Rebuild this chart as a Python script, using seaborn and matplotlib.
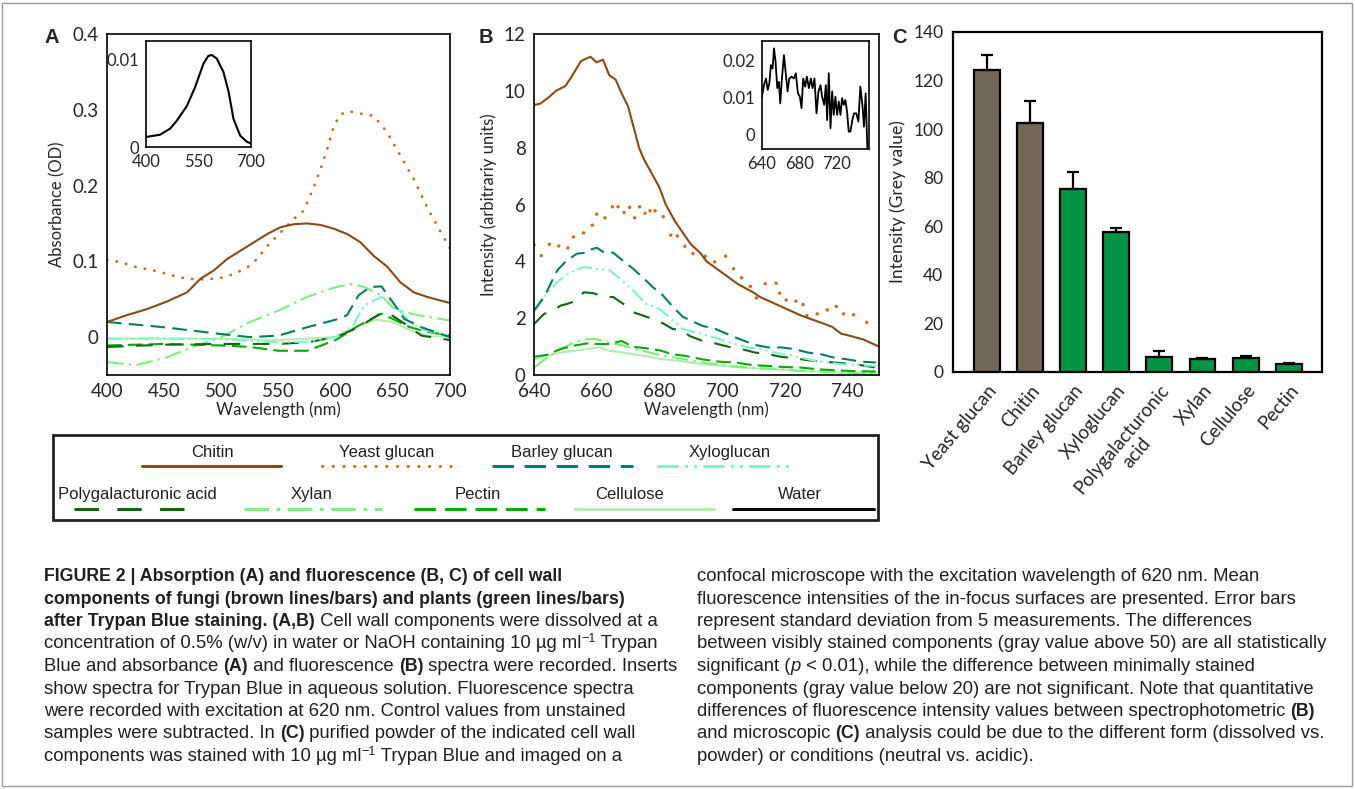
import numpy as np
import pandas as pd
import matplotlib
matplotlib.use("Agg")
import matplotlib.pyplot as plt
import seaborn as sns
from matplotlib import font_manager as fm
from matplotlib.patches import Rectangle

# ---------------- data: panel A (absorbance) ----------------
a_chitin_x = [400, 417.5, 435, 452.5, 470, 481.7, 493.4, 505, 516.7, 528.4, 540.1, 551.7,
              563.4, 575.1, 586.8, 598.4, 610.1, 621.8, 633.4, 645.1, 656.8, 668.5, 680.1, 700]
a_chitin_y = [0.020, 0.029, 0.037, 0.047, 0.059, 0.077, 0.088, 0.103, 0.114, 0.125, 0.136, 0.145,
              0.149, 0.150, 0.148, 0.143, 0.136, 0.125, 0.107, 0.093, 0.072, 0.059, 0.053, 0.045]
a_yeast_x = [400, 411.7, 426.3, 440.9, 458.4, 470, 481.7, 493.4, 502.1, 510.9, 522.6, 531.3, 540.1,
             551.7, 563.4, 572.2, 580.9, 586.8, 592.6, 598.4, 604.3, 611.6, 621.8, 633.4, 645.1,
             656.8, 668.5, 680.1, 691.8, 700]
a_yeast_y = [0.102, 0.099, 0.092, 0.088, 0.081, 0.077, 0.076, 0.077, 0.079, 0.083, 0.092, 0.103, 0.120,
             0.138, 0.156, 0.167, 0.198, 0.222, 0.248, 0.279, 0.294, 0.298, 0.295, 0.292, 0.270,
             0.239, 0.208, 0.171, 0.139, 0.117]
a_barley_x = [400, 450, 500, 525, 550, 575, 600, 610, 620, 630, 640, 650, 660, 675, 700]
a_barley_y = [0.020, 0.013, 0.004, 0.000, 0.002, 0.013, 0.023, 0.029, 0.055, 0.066, 0.067, 0.046, 0.024, 0.013, 0.000]
a_xylog_x = [400, 450, 500, 550, 575, 600, 615, 625, 640, 650, 660, 675, 700]
a_xylog_y = [-0.002, -0.002, -0.003, -0.007, -0.006, 0.000, 0.015, 0.042, 0.053, 0.046, 0.028, 0.010, 0.002]
a_poly_x = [400, 450, 500, 550, 575, 600, 620, 640, 650, 660, 675, 700]
a_poly_y = [-0.013, -0.010, -0.009, -0.009, -0.007, 0.000, 0.013, 0.032, 0.028, 0.018, 0.002, -0.004]
a_xylan_x = [400, 425, 450, 475, 500, 525, 550, 575, 600, 615, 625, 640, 650, 660, 675, 700]
a_xylan_y = [-0.033, -0.037, -0.028, -0.013, 0.000, 0.020, 0.035, 0.053, 0.066, 0.070, 0.066, 0.055, 0.039, 0.033, 0.028, 0.022]
a_pectin_x = [400, 450, 500, 525, 550, 575, 600, 620, 640, 650, 665, 680, 700]
a_pectin_y = [-0.011, -0.009, -0.011, -0.013, -0.018, -0.018, -0.004, 0.015, 0.031, 0.024, 0.013, 0.007, 0.002]
a_cell_x = [400, 450, 500, 550, 600, 620, 635, 650, 665, 680, 700]
a_cell_y = [-0.002, -0.002, -0.002, -0.004, 0.000, 0.015, 0.023, 0.020, 0.009, 0.002, 0.000]
a_water_x = [400, 440, 469, 488, 517, 540, 564, 578, 588, 602, 621, 636, 650, 669, 688, 700]
a_water_y = [0.00114, 0.0014, 0.0021, 0.0030, 0.0047, 0.0068, 0.0095, 0.0104, 0.0105, 0.0101,
             0.0086, 0.0063, 0.0032, 0.0013, 0.0006, 0.0004]

# ---------------- data: panel B (fluorescence) ----------------
b_chitin_x = [640, 642, 645, 647, 650, 652, 655, 658, 660, 662, 664, 666, 668, 670, 673.5, 675, 678,
              680, 682, 685, 690, 693, 695, 700, 705, 710, 712, 715, 720, 725, 730, 735, 738, 740, 745, 750]
b_chitin_y = [9.5, 9.55, 9.8, 10.0, 10.17, 10.5, 11.05, 11.2, 11.0, 11.1, 10.55, 10.4, 9.9, 9.45, 8.0,
              7.6, 7.0, 6.6, 6.0, 5.4, 4.6, 4.3, 4.0, 3.6, 3.2, 2.9, 2.75, 2.6, 2.35, 2.1, 1.9, 1.7,
              1.45, 1.4, 1.25, 1.0]
b_yeast_x = [640, 642.3, 644.9, 647.9, 650.8, 652.6, 655.8, 658.6, 660, 662.6, 665, 666.8, 668.7, 670.5,
             672.1, 673.7, 675.4, 677, 678.6, 681.2, 683.6, 685.7, 688.1, 690.7, 694.6, 697.6, 701.1,
             703.6, 706.2, 709, 710.9, 713.7, 717.2, 718.3, 720.4, 723.5, 725.8, 727, 730.3, 733.5,
             736.4, 738.7, 741.9, 746.1]
b_yeast_y = [4.57, 4.2, 4.6, 4.54, 4.47, 4.86, 5.0, 5.27, 5.66, 5.53, 5.92, 5.92, 5.72, 5.9, 5.53, 5.92,
             5.69, 5.78, 5.78, 5.57, 4.92, 4.89, 4.53, 4.27, 4.18, 3.98, 4.18, 3.74, 3.42, 3.12, 2.71,
             3.21, 3.23, 2.88, 2.64, 2.6, 2.48, 2.09, 2.15, 2.29, 2.41, 2.15, 2.12, 1.85]
b_barley_x = [640, 643.2, 647.4, 650.5, 653.7, 656.3, 657.4, 660, 662.1, 665.3, 668.5, 671.6, 674.8,
              677.9, 681.1, 684.2, 687.4, 690.5, 693.7, 697.9, 702.1, 706.3, 710.5, 714.7, 718.9,
              723.1, 727.3, 731.5, 735.7, 739.9, 744.1, 749]
b_barley_y = [2.27, 2.74, 3.68, 4.04, 4.27, 4.3, 4.39, 4.48, 4.33, 4.3, 4.01, 3.74, 3.42, 3.09, 2.8,
              2.41, 2.05, 1.89, 1.73, 1.62, 1.42, 1.23, 1.06, 0.97, 0.97, 0.91, 0.79, 0.73, 0.61,
              0.55, 0.47, 0.44]
b_xylog_x = [640, 643.2, 647.4, 651.6, 655.8, 660, 664.2, 667.4, 671.6, 675.8, 680, 683.2, 687.4,
             691.6, 695.8, 700, 704.2, 708.4, 712.6, 716.8, 721, 725.2, 729.4, 733.6, 737.8, 741.9, 749]
b_xylog_y = [2.21, 2.74, 3.27, 3.62, 3.8, 3.74, 3.68, 3.39, 2.97, 2.5, 2.32, 2.03, 1.62, 1.5, 1.38,
             1.23, 1.09, 0.97, 0.91, 0.79, 0.71, 0.61, 0.5, 0.44, 0.38, 0.35, 0.32]
b_poly_x = [640, 643.2, 646.3, 648.4, 650.5, 653.7, 655.8, 658.9, 662.1, 665.3, 668.5, 671.6, 674.8,
            677.9, 681.1, 684.2, 687.4, 689.5, 693.7, 697.9, 702.1, 706.3, 710.5, 714.7, 718.9,
            723.1, 727.3, 731.5, 735.7, 739.9, 744.1, 749]
b_poly_y = [1.79, 2.15, 2.27, 2.44, 2.5, 2.62, 2.91, 2.88, 2.76, 2.74, 2.5, 2.21, 2.09, 1.97, 1.82,
            1.62, 1.58, 1.38, 1.2, 1.11, 0.99, 0.91, 0.79, 0.73, 0.64, 0.59, 0.52, 0.47, 0.44, 0.4,
            0.35, 0.26]
b_pectin_x = [640, 644.2, 648.4, 652.6, 656.8, 660, 664.2, 667.9, 671.6, 675.8, 680, 684.2, 688.4,
              693.7, 698.9, 704.2, 709.5, 714.7, 720, 725.2, 730.5, 735.7, 741, 749]
b_pectin_y = [0.64, 0.71, 0.91, 1.03, 1.11, 1.09, 1.09, 1.2, 0.99, 0.94, 0.87, 0.73, 0.67, 0.55, 0.47,
              0.44, 0.35, 0.32, 0.28, 0.26, 0.2, 0.17, 0.14, 0.12]
b_xylan_x = [640, 644.2, 648.4, 652.6, 656.3, 660, 664.2, 668.4, 672.6, 676.8, 681.1, 685.3, 689.5,
             693.7, 699.9, 706.3, 712.6, 718.9, 725.2, 731.5, 737.8, 749]
b_xylan_y = [0.26, 0.61, 0.91, 1.14, 1.26, 1.26, 1.14, 1.03, 0.91, 0.79, 0.67, 0.61, 0.52, 0.44, 0.35,
             0.28, 0.24, 0.2, 0.14, 0.12, 0.08, 0.05]
b_cell_x = [640, 644.2, 648.4, 652.6, 656.8, 660.5, 664.2, 668.4, 672.6, 676.8, 681.1, 685.3, 689.5,
            693.7, 699.9, 706.3, 712.6, 718.9, 725.2, 731.5, 737.8, 749]
b_cell_y = [0.55, 0.67, 0.79, 0.85, 0.91, 0.97, 0.85, 0.79, 0.71, 0.64, 0.55, 0.52, 0.44, 0.38, 0.32,
            0.26, 0.22, 0.19, 0.14, 0.12, 0.08, 0.05]
b_water_x = [640.0, 642.1, 644.3, 646.1, 647.9, 649.6, 651.4, 652.9, 654.6, 656.4, 658.2, 659.6, 661.4,
             663.6, 665.7, 667.5, 669.3, 671.8, 674.3, 676.4, 678.6, 680.7, 682.5, 684.3, 686.4,
             688.2, 690.4, 692.5, 694.3, 696.4, 698.6, 700.7, 702.9, 704.6, 706.8, 708.6, 710.0,
             711.8, 713.6, 715.4, 717.1, 718.9, 720.7, 722.5, 724.3, 726.1, 727.9, 729.6, 731.4,
             733.2, 735.0, 737.1, 738.9, 741.4, 743.6, 745.7, 747.9, 749.6, 751.4, 753.2]
b_water_y = [0.0103, 0.0134, 0.0152, 0.0121, 0.0139, 0.0188, 0.0179, 0.0233, 0.0197, 0.0126, 0.0143,
             0.0085, 0.0152, 0.0215, 0.0161, 0.0117, 0.0152, 0.0157, 0.0152, 0.0166, 0.0112, 0.0103,
             0.0072, 0.0152, 0.0130, 0.0157, 0.0126, 0.0152, 0.0126, 0.0152, 0.0058, 0.0117, 0.0134,
             0.0103, 0.0081, 0.0134, 0.0040, 0.0166, 0.0018, 0.0117, 0.0054, 0.0103, 0.0054, 0.0090,
             0.0054, 0.0099, 0.0081, 0.0094, 0.0063, 0.0009, 0.0009, 0.0040, 0.0058, 0.0058, 0.0036,
             0.0130, 0.0081, 0.0022, 0.0112, -0.0036]

# ---------------- data: panel C (microscopy) ----------------
c_labels = ['Yeast glucan', 'Chitin', 'Barley glucan', 'Xyloglucan', 'Polygalacturonic\nacid',
            'Xylan', 'Cellulose', 'Pectin']
c_mean = [124.5, 102.5, 75.5, 57.5, 6.0, 5.5, 5.8, 3.2]
c_sd = [6.0, 9.0, 7.0, 2.0, 2.5, 0.3, 0.8, 0.4]
c_colors = ['#736759', '#736759', '#009444', '#009444', '#009444', '#009444', '#009444', '#009444']

# ---------------- styles ----------------
style = {
    'Chitin': ('#8C4A14', '-'),
    'Yeast glucan': ('#D2691E', (0, (0.1, 3.4))),
    'Barley glucan': ('#007F66', (0, (7, 3.5))),
    'Xyloglucan': ('#7FF2D2', (0, (7, 2, 1, 2, 1, 2))),
    'Polygalacturonic acid': ('#116611', (0, (8, 6))),
    'Xylan': ('#7CF07C', (0, (8, 2.5, 1.2, 2.5))),
    'Pectin': ('#00AD00', (0, (7, 3))),
    'Cellulose': ('#B5EDB0', '-'),
    'Water': ('black', '-'),
}

sns.set_theme(style="white")
PANEL = ['Lato', 'DejaVu Sans']
plt.rcParams['font.family'] = PANEL
TICK_FS = 13.5
LAB_FS = 12
INS_FS = 12


def has_font(name):
    try:
        fm.findfont(name, fallback_to_default=False)
        return True
    except ValueError:
        return False


REG = 'Liberation Sans'
NARROW = 'Liberation Sans Narrow' if has_font('Liberation Sans Narrow') else 'Liberation Sans'

fig = plt.figure(figsize=(13.55, 7.89), dpi=100)
fig.patch.set_facecolor('white')
over = fig.add_axes([0, 0, 1, 1])
over.set_xlim(0, 1355)
over.set_ylim(789, 0)
over.axis('off')
over.add_patch(Rectangle((2, 3), 1350, 783, fill=False, edgecolor='#9a9a9a', lw=1))


def line(ax, x, y, name, lw=1.5):
    col, ls = style[name]
    sns.lineplot(x=x, y=y, ax=ax, color=col, linestyle=ls, linewidth=lw, sort=False,
                 estimator=None, dash_capstyle='round' if name == 'Yeast glucan' else 'butt')


def frame(ax, lw=1.2):
    for s in ax.spines.values():
        s.set_visible(True)
        s.set_color('black')
        s.set_linewidth(lw)
    ax.tick_params(direction='out', length=4, width=1.1, color='black', pad=2)


# ---------------- panel A ----------------
axA = fig.add_axes([107 / 1355, 1 - 375 / 789, 343 / 1355, 341 / 789])
line(axA, a_cell_x, a_cell_y, 'Cellulose')
line(axA, a_xylan_x, a_xylan_y, 'Xylan')
line(axA, a_pectin_x, a_pectin_y, 'Pectin')
line(axA, a_poly_x, a_poly_y, 'Polygalacturonic acid')
line(axA, a_xylog_x, a_xylog_y, 'Xyloglucan')
line(axA, a_barley_x, a_barley_y, 'Barley glucan')
line(axA, a_yeast_x, a_yeast_y, 'Yeast glucan', lw=2.0)
line(axA, a_chitin_x, a_chitin_y, 'Chitin')
axA.set_xlim(400, 700)
axA.set_ylim(-0.05, 0.4)
axA.set_xticks(range(400, 701, 50))
axA.set_yticks([0, 0.1, 0.2, 0.3, 0.4])
axA.set_yticklabels(['0', '0.1', '0.2', '0.3', '0.4'])
axA.tick_params(labelsize=TICK_FS)
axA.set_xlabel('Wavelength (nm)', fontsize=LAB_FS, labelpad=1)
axA.set_ylabel('Absorbance (OD)', fontsize=LAB_FS, labelpad=5)
frame(axA)

insA = fig.add_axes([146 / 1355, 1 - 147 / 789, 105 / 1355, 106 / 789])
line(insA, a_water_x, a_water_y, 'Water')
insA.set_xlim(400, 700)
insA.set_ylim(0, 0.0121)
insA.set_xticks([400, 550, 700])
insA.set_yticks([0, 0.01])
insA.set_yticklabels(['0', '0.01'])
insA.set_xlabel('')
insA.set_ylabel('')
frame(insA)
insA.tick_params(labelsize=INS_FS, length=3)

# ---------------- panel B ----------------
axB = fig.add_axes([534 / 1355, 1 - 375 / 789, 345 / 1355, 341 / 789])
line(axB, b_cell_x, b_cell_y, 'Cellulose')
line(axB, b_xylan_x, b_xylan_y, 'Xylan')
line(axB, b_pectin_x, b_pectin_y, 'Pectin')
line(axB, b_poly_x, b_poly_y, 'Polygalacturonic acid')
line(axB, b_xylog_x, b_xylog_y, 'Xyloglucan')
line(axB, b_barley_x, b_barley_y, 'Barley glucan')
sns.scatterplot(x=b_yeast_x, y=b_yeast_y, ax=axB, color=style['Yeast glucan'][0], s=6,
                edgecolor='none')
line(axB, b_chitin_x, b_chitin_y, 'Chitin')
axB.set_xlim(640, 750)
axB.set_ylim(0, 12)
axB.set_xticks(range(640, 741, 20))
axB.set_yticks(range(0, 13, 2))
axB.tick_params(labelsize=TICK_FS)
axB.set_xlabel('Wavelength (nm)', fontsize=LAB_FS, labelpad=1)
axB.set_ylabel('Intensity (arbitrariy units)', fontsize=LAB_FS, labelpad=5)
frame(axB)

insB = fig.add_axes([762 / 1355, 1 - 149 / 789, 107 / 1355, 108 / 789])
line(insB, b_water_x, b_water_y, 'Water', lw=1.3)
insB.set_xlim(640, 755)
insB.set_ylim(-0.0038, 0.0253)
insB.set_xticks([640, 680, 720])
insB.set_yticks([0, 0.01, 0.02])
insB.set_yticklabels(['0', '0.01', '0.02'])
insB.set_xlabel('')
insB.set_ylabel('')
frame(insB)
insB.tick_params(labelsize=INS_FS, length=3)

# ---------------- panel C ----------------
axC = fig.add_axes([953 / 1355, 1 - 372 / 789, 369 / 1355, 340 / 789])
sns.barplot(x=c_labels, y=c_mean, hue=c_labels, palette=c_colors, legend=False, width=0.6,
            saturation=1, edgecolor='black', linewidth=1.6, errorbar=None, ax=axC)
axC.errorbar(np.arange(len(c_mean)), c_mean, yerr=[np.zeros(len(c_sd)), c_sd], fmt='none',
             ecolor='black', elinewidth=1.6, capsize=4.5, capthick=1.6)
axC.set_xlim(-0.78, 7.77)
axC.set_ylim(0, 140)
axC.set_yticks(range(0, 141, 20))
axC.set_xticks(range(len(c_labels)))
axC.set_xticklabels(c_labels, rotation=50, ha='right', va='top', rotation_mode='anchor',
                    multialignment='center')
axC.set_ylabel('Intensity (Grey value)', fontsize=LAB_FS + 0.5, labelpad=5)
frame(axC, lw=1.6)
axC.tick_params(labelsize=TICK_FS, length=5, width=1.4)
axC.tick_params(axis='y', labelsize=12.5)

# panel letters
for letter, px in zip(['A', 'B', 'C'], [52, 486, 899]):
    over.text(px, 37, letter, family=REG, fontweight='bold', fontsize=14.5, ha='center', va='center')

# ---------------- legend box ----------------
leg_names = ['Chitin', 'Yeast glucan', 'Barley glucan', 'Xyloglucan', 'Polygalacturonic acid',
             'Xylan', 'Pectin', 'Cellulose', 'Water']
leg_label_x = [212, 387, 562, 730, 137, 312, 478, 630, 800]
leg_line_x = [(142, 281), (322, 455), (492, 633), (657, 790), (74, 201), (244, 382), (414, 545),
              (575, 714), (733, 874)]
leg_row = [0, 0, 0, 0, 1, 1, 1, 1, 1]
row_label_y = [452, 494]
row_line_y = [466, 509]
over.add_patch(Rectangle((53, 435), 825, 85, fill=False, edgecolor='#222222', lw=2))
for name, lx, (x0, x1), r in zip(leg_names, leg_label_x, leg_line_x, leg_row):
    col, ls = style[name]
    over.plot([x0, x1], [row_line_y[r]] * 2, color=col, linestyle=ls, lw=2.2,
              dash_capstyle='round' if name == 'Yeast glucan' else 'butt')
    over.text(lx, row_label_y[r], name, family=NARROW, fontsize=12, ha='center', va='center',
              color='#231F20')

# ---------------- caption ----------------
renderer = fig.canvas.get_renderer()


def run_width(txt, **kw):
    a = over.text(0, 0, txt + '|', **kw)
    b = over.text(0, 0, '|', **kw)
    w = a.get_window_extent(renderer).width - b.get_window_extent(renderer).width
    a.remove()
    b.remove()
    return w


fit = 'between visibly stained components (gray value above 50) are all statistically'
CAP_FS = 10 * 633 / run_width(fit, family=REG, fontsize=10)


def kw_for(kind):
    if kind == 'b':
        return dict(family=REG, fontweight='bold', fontsize=CAP_FS * 0.96)
    if kind == 'i':
        return dict(family=REG, style='italic', fontsize=CAP_FS)
    if kind == 's':
        return dict(family=REG, fontsize=CAP_FS * 0.68)
    return dict(family=REG, fontsize=CAP_FS)


def draw_runs(x, y, runs):
    for txt, kind in runs:
        kw = kw_for(kind)
        yy = y - 6 if kind == 's' else y
        over.text(x, yy, txt, va='baseline', ha='left', color='#231F20', **kw)
        x += run_width(txt, **kw)


left_lines = [
    [('FIGURE 2 | Absorption (A) and fluorescence (B, C) of cell wall', 'b')],
    [('components of fungi (brown lines/bars) and plants (green lines/bars)', 'b')],
    [('after Trypan Blue staining. (A,B)', 'b'), (' Cell wall components were dissolved at a', 'r')],
    [('concentration of 0.5% (w/v) in water or NaOH containing 10 µg ml', 'r'), ('\u22121', 's'),
     (' Trypan', 'r')],
    [('Blue and absorbance ', 'r'), ('(A)', 'b'), (' and fluorescence ', 'r'), ('(B)', 'b'),
     (' spectra were recorded. Inserts', 'r')],
    [('show spectra for Trypan Blue in aqueous solution. Fluorescence spectra', 'r')],
    [('were recorded with excitation at 620 nm. Control values from unstained', 'r')],
    [('samples were subtracted. In ', 'r'), ('(C)', 'b'), (' purified powder of the indicated cell wall', 'r')],
    [('components was stained with 10 µg ml', 'r'), ('\u22121', 's'), (' Trypan Blue and imaged on a', 'r')],
]
right_lines = [
    [('confocal microscope with the excitation wavelength of 620 nm. Mean', 'r')],
    [('fluorescence intensities of the in-focus surfaces are presented. Error bars', 'r')],
    [('represent standard deviation from 5 measurements. The differences', 'r')],
    [('between visibly stained components (gray value above 50) are all statistically', 'r')],
    [('significant (', 'r'), ('p', 'i'), (' < 0.01), while the difference between minimally stained', 'r')],
    [('components (gray value below 20) are not significant. Note that quantitative', 'r')],
    [('differences of fluorescence intensity values between spectrophotometric ', 'r'), ('(B)', 'b')],
    [('and microscopic ', 'r'), ('(C)', 'b'), (' analysis could be due to the different form (dissolved vs.', 'r')],
    [('powder) or conditions (neutral vs. acidic).', 'r')],
]
for i, runs in enumerate(left_lines):
    draw_runs(44, 581 + 22.5 * i, runs)
for i, runs in enumerate(right_lines):
    draw_runs(697, 581 + 22.5 * i, runs)

fig.savefig('out.png', dpi=100)
